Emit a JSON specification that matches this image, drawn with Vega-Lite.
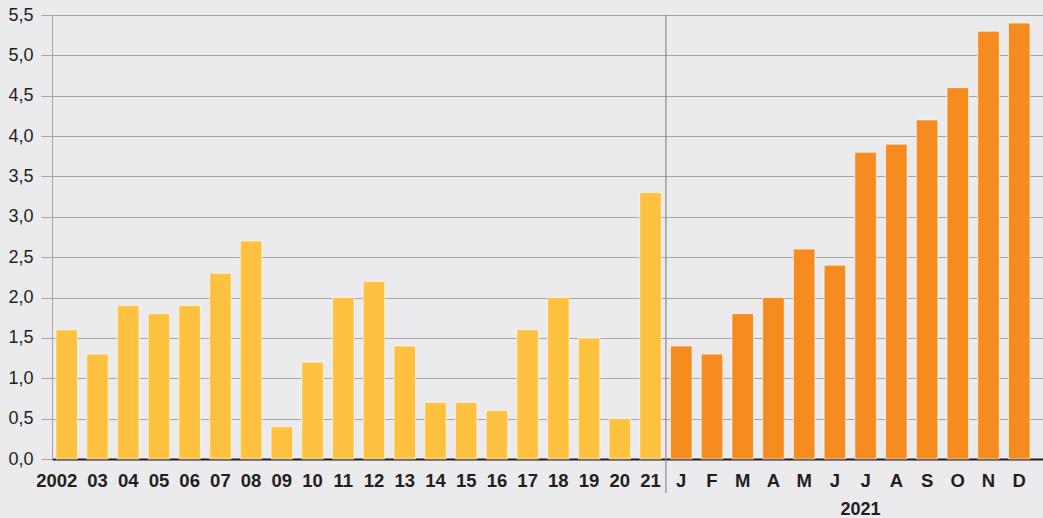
{
  "$schema": "https://vega.github.io/schema/vega-lite/v6.json",
  "autosize": {"type": "none"},
  "padding": {"left": 52, "top": 15, "right": 0, "bottom": 59},
  "width": 991,
  "height": 444,
  "background": "#ebebed",
  "config": {
    "view": {"stroke": null},
    "font": "Liberation Sans"
  },
  "data": {
    "values": [
      {"key": "2002", "value": 1.6, "group": "year"},
      {"key": "03", "value": 1.3, "group": "year"},
      {"key": "04", "value": 1.9, "group": "year"},
      {"key": "05", "value": 1.8, "group": "year"},
      {"key": "06", "value": 1.9, "group": "year"},
      {"key": "07", "value": 2.3, "group": "year"},
      {"key": "08", "value": 2.7, "group": "year"},
      {"key": "09", "value": 0.4, "group": "year"},
      {"key": "10", "value": 1.2, "group": "year"},
      {"key": "11", "value": 2.0, "group": "year"},
      {"key": "12", "value": 2.2, "group": "year"},
      {"key": "13", "value": 1.4, "group": "year"},
      {"key": "14", "value": 0.7, "group": "year"},
      {"key": "15", "value": 0.7, "group": "year"},
      {"key": "16", "value": 0.6, "group": "year"},
      {"key": "17", "value": 1.6, "group": "year"},
      {"key": "18", "value": 2.0, "group": "year"},
      {"key": "19", "value": 1.5, "group": "year"},
      {"key": "20", "value": 0.5, "group": "year"},
      {"key": "21", "value": 3.3, "group": "year"},
      {"key": "J_1", "value": 1.4, "group": "month"},
      {"key": "F_2", "value": 1.3, "group": "month"},
      {"key": "M_3", "value": 1.8, "group": "month"},
      {"key": "A_4", "value": 2.0, "group": "month"},
      {"key": "M_5", "value": 2.6, "group": "month"},
      {"key": "J_6", "value": 2.4, "group": "month"},
      {"key": "J_7", "value": 3.8, "group": "month"},
      {"key": "A_8", "value": 3.9, "group": "month"},
      {"key": "S_9", "value": 4.2, "group": "month"},
      {"key": "O_10", "value": 4.6, "group": "month"},
      {"key": "N_11", "value": 5.3, "group": "month"},
      {"key": "D_12", "value": 5.4, "group": "month"}
    ]
  },
  "encoding": {
    "x": {
      "field": "key",
      "type": "nominal",
      "sort": null,
      "scale": {"paddingInner": 0.3, "paddingOuter": 0.2766, "align": 0.235},
      "axis": {
        "title": "2021",
        "titleX": 808,
        "titleY": 50,
        "titleBaseline": "middle",
        "titleAlign": "center",
        "titleFontSize": 18,
        "titleFontWeight": "bold",
        "titleColor": "#231f20",
        "labelExpr": "split(datum.label, '_')[0]",
        "labelAngle": 0,
        "labelFontSize": 18.5,
        "labelFontWeight": "bold",
        "labelColor": "#231f20",
        "labelPadding": 12,
        "labelOverlap": false,
        "labelOffset": {"condition": {"test": "datum.value == '2002'", "value": -10}, "value": 0},
        "ticks": false,
        "domainColor": "#231f20",
        "domainWidth": 2,
        "grid": false
      }
    }
  },
  "layer": [
    {
      "mark": {"type": "bar", "stroke": "#ffffff", "strokeWidth": 1, "strokeOpacity": 0.6},
      "encoding": {
        "y": {
          "field": "value",
          "type": "quantitative",
          "scale": {"domain": [0, 5.5], "nice": false},
          "axis": {
            "title": null,
            "values": [0, 0.5, 1, 1.5, 2, 2.5, 3, 3.5, 4, 4.5, 5, 5.5],
            "labelExpr": "replace(format(datum.value, '.1f'), '.', ',')",
            "labelFontSize": 18,
            "labelColor": "#231f20",
            "labelPadding": 8,
            "tickSize": 11,
            "tickColor": "#a6a6a8",
            "domainColor": "#a6a6a8",
            "gridColor": "#a6a6a8",
            "grid": true
          }
        },
        "color": {
          "field": "group",
          "type": "nominal",
          "scale": {"domain": ["year", "month"], "range": ["#fec240", "#f68c1f"]},
          "legend": null
        }
      }
    },
    {
      "transform": [{"filter": "datum.key == 'J_1'"}],
      "mark": {"type": "rule", "color": "#8c8c8e", "strokeWidth": 1.2},
      "encoding": {
        "x": {"field": "key", "type": "nominal", "sort": null, "bandPosition": -0.214},
        "y": {"datum": 5.5},
        "y2": {"datum": -0.42}
      }
    }
  ]
}
